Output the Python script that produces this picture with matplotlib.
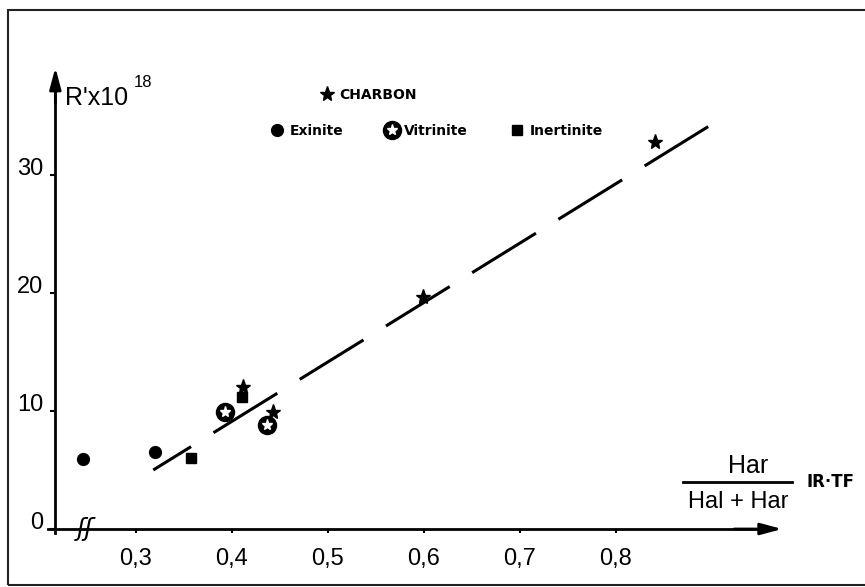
import matplotlib
matplotlib.use("Agg")
import matplotlib.pyplot as plt
from matplotlib.lines import Line2D
from matplotlib.patches import Rectangle
from matplotlib.legend_handler import HandlerTuple

plt.rcParams['font.family'] = ['Liberation Sans', 'DejaVu Sans']
plt.rcParams['lines.scale_dashes'] = False

# data
exinite_x = [0.245, 0.320]
exinite_y = [5.9, 6.5]
vitrinite_x = [0.393, 0.436]
vitrinite_y = [9.9, 8.8]
inertinite_x = [0.357, 0.410]
inertinite_y = [6.0, 11.2]
charbon_x = [0.411, 0.443, 0.599, 0.841]
charbon_y = [12.0, 9.9, 19.7, 32.8]
fit_x = [0.318, 0.896]
fit_y = [5.0, 34.1]

xticks = [0.3, 0.4, 0.5, 0.6, 0.7, 0.8]
xticklabels = ['0,3', '0,4', '0,5', '0,6', '0,7', '0,8']
yticks = [0, 10, 20, 30]
yticklabels = ['0', '10', '20', '30']

W, H = 865, 587
def px(x, y):
    return (x / W, 1 - y / H)

fig = plt.figure(figsize=(W / 100, H / 100), dpi=100)

# axes placed so that x=0.3 -> 136 px, 0.1 = 96 px ; y=0 -> 529 px, 1 = 11.8 px
xlim = (0.19, 1.0)
ylim = (-2, 42)
left = 136 + (xlim[0] - 0.3) * 960
right = 136 + (xlim[1] - 0.3) * 960
bottom = 529 - ylim[0] * 11.8
top = 529 - ylim[1] * 11.8
ax = fig.add_axes([left / W, (H - bottom) / H, (right - left) / W, (bottom - top) / H])
ax.set_xlim(*xlim)
ax.set_ylim(*ylim)
ax.patch.set_alpha(0)

x_origin = 0.216
x_end = 0.973
y_end = 39.1
for s in ['top', 'right']:
    ax.spines[s].set_visible(False)
ax.spines['left'].set_position(('data', x_origin))
ax.spines['bottom'].set_position(('data', 0))
ax.spines['left'].set_bounds(-0.3, y_end - 1.2)
ax.spines['bottom'].set_bounds(0.208, x_end - 0.02)
ax.spines['left'].set_linewidth(2)
ax.spines['bottom'].set_linewidth(2)
arr = dict(arrowstyle='-|>,head_length=1.3,head_width=0.35', lw=2, color='k',
           shrinkA=0, shrinkB=0)
ax.annotate('', xy=(x_end, 0), xytext=(x_end - 0.05, 0), arrowprops=arr)
ax.annotate('', xy=(x_origin, y_end), xytext=(x_origin, y_end - 3), arrowprops=arr)

ax.set_xticks(xticks)
ax.set_xticklabels(xticklabels)
ax.set_yticks(yticks)
ax.set_yticklabels(yticklabels)
ax.tick_params(axis='x', direction='out', length=3, width=1.5, pad=11, labelsize=17)
ax.tick_params(axis='y', direction='out', length=3.5, width=1.5, pad=5, labelsize=17)
for lbl in ax.get_yticklabels():
    lbl.set_va('baseline')

# axis break
ax.text(0.247, 0, 'ʃʃ', ha='center', va='center', fontsize=18,
        family=['DejaVu Sans'], style='italic')

# fit line
ax.plot(fit_x, fit_y, color='k', lw=2.2, linestyle=(22, (54, 19)),
        dash_capstyle='butt')

# points
p_ex, = ax.plot(exinite_x, exinite_y, 'o', color='k', ms=8.5, ls='none')
p_vo, = ax.plot(vitrinite_x, vitrinite_y, 'o', color='k', ms=13, ls='none')
p_vi, = ax.plot(vitrinite_x, vitrinite_y, '*', color='w', ms=8, ls='none')
p_in, = ax.plot(inertinite_x, inertinite_y, 's', color='k', ms=6.5, ls='none')
p_ch, = ax.plot(charbon_x, charbon_y, '*', color='k', ms=11, ls='none')

# legends
bold = dict(family='DejaVu Sans', weight='bold', size=10)
fig.legend([p_ch], ['CHARBON'], loc='center left', bbox_to_anchor=px(320, 95),
           frameon=False, prop=bold, handlelength=1, handletextpad=0.4,
           borderpad=0, borderaxespad=0)
fig.legend([p_ex, (p_vo, p_vi), p_in], ['Exinite', 'Vitrinite', 'Inertinite'],
           ncol=3, loc='center left', bbox_to_anchor=px(270, 131), frameon=False,
           prop=bold, handlelength=1, handletextpad=0.4, columnspacing=3.0,
           borderpad=0, borderaxespad=0,
           handler_map={tuple: HandlerTuple(ndivide=1, pad=0)})

# axis labels
fig.text(*px(65, 105), "R'x10", fontsize=18, ha='left', va='baseline')
fig.text(*px(134, 87), "18", fontsize=12, ha='left', va='baseline')

fig.text(*px(748, 473), 'Har', fontsize=18, ha='center', va='baseline')
fig.add_artist(Line2D([683 / W, 792 / W], [1 - 482 / H] * 2, color='k', lw=2))
fig.text(*px(738, 508), 'Hal + Har', fontsize=17, ha='center', va='baseline')
fig.text(*px(806, 482), 'IR·TF', fontsize=12, weight='bold', ha='left', va='center',
         family=['DejaVu Sans'])

# outer frame
fig.add_artist(Rectangle(px(8, 585), 870 / W, 575 / H, fill=False, lw=1.5,
                         edgecolor='#222222'))

fig.savefig('out.png', dpi=100)
